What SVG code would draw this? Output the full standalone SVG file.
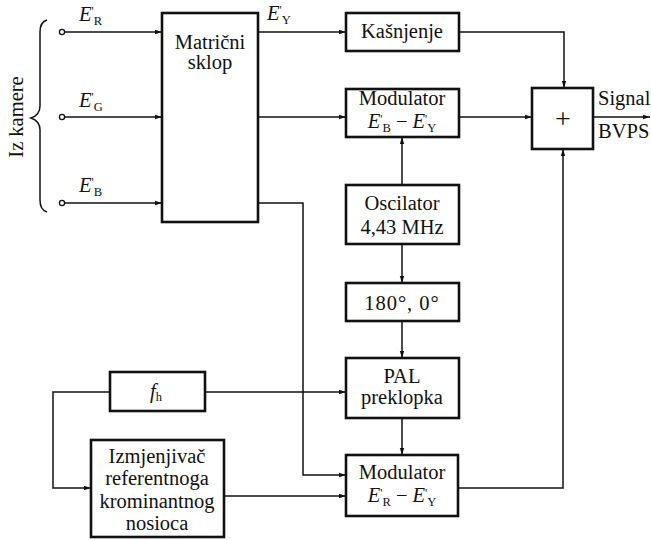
<svg xmlns="http://www.w3.org/2000/svg" width="651" height="540" viewBox="0 0 651 540">
<defs>
<marker id="ar" markerWidth="8" markerHeight="6" refX="7" refY="3" orient="auto" markerUnits="userSpaceOnUse">
<path d="M0,0.8 L7,3 L0,5.2 z" fill="#111"/>
</marker>
<style>
.box{fill:#fff;stroke:#111;stroke-width:2.6}
.ln{fill:none;stroke:#111;stroke-width:1.5}
.ar{marker-end:url(#ar)}
text{font-family:"Liberation Serif","Times New Roman",serif;fill:#111;font-size:20.5px}
.c{text-anchor:middle}
.it{font-style:italic}
.sub{font-size:12.5px}
.pr{font-size:12px}
.plus{font-size:28px}
</style>
</defs>
<rect width="651" height="540" fill="#fff"/>

<g id="connectors">
<path class="ln ar" d="M65,32 H162"/>
<path class="ln ar" d="M65,117 H162"/>
<path class="ln ar" d="M65,203 H162"/>
<path class="ln ar" d="M258,32 H346"/>
<path class="ln ar" d="M258,117 H346"/>
<path class="ln ar" d="M258,203 H303 V475 H346"/>
<path class="ln ar" d="M459,32 H564 V88"/>
<path class="ln ar" d="M459,117 H532"/>
<path class="ln ar" d="M593,117 H650"/>
<path class="ln ar" d="M458,488 H563 V149"/>
<path class="ln ar" d="M402,185 V137"/>
<path class="ln ar" d="M402,244 V283"/>
<path class="ln ar" d="M402,321 V358"/>
<path class="ln ar" d="M402,418 V455"/>
<path class="ln ar" d="M205,392 H346"/>
<path class="ln ar" d="M110,392 H53 V488 H91"/>
<path class="ln ar" d="M224,496 H346"/>
</g>

<g id="inputs">
<circle cx="62" cy="32" r="2.6" fill="#fff" stroke="#111" stroke-width="1.3"/>
<circle cx="62" cy="117" r="2.6" fill="#fff" stroke="#111" stroke-width="1.3"/>
<circle cx="62" cy="203" r="2.6" fill="#fff" stroke="#111" stroke-width="1.3"/>
<text x="79" y="21"><tspan class="it">E</tspan><tspan class="pr" dy="-6">'</tspan><tspan class="sub" dy="10">R</tspan></text>
<text x="79" y="107"><tspan class="it">E</tspan><tspan class="pr" dy="-6">'</tspan><tspan class="sub" dy="10">G</tspan></text>
<text x="79" y="192"><tspan class="it">E</tspan><tspan class="pr" dy="-6">'</tspan><tspan class="sub" dy="10">B</tspan></text>
<text x="267" y="20"><tspan class="it">E</tspan><tspan class="pr" dy="-6">'</tspan><tspan class="sub" dy="10">Y</tspan></text>
</g>

<g id="brace">
<path class="ln" d="M47,20 Q40,22 40,32 V106 Q40,115 31,118 Q40,121 40,130 V200 Q40,210 47,212" stroke-width="1.6"/>
<text class="c" transform="translate(23,117) rotate(-90)">Iz kamere</text>
</g>

<g id="matricni">
<rect class="box" x="162" y="13" width="96" height="209"/>
<text class="c" x="210" y="49">Matrični</text>
<text class="c" x="210" y="69">sklop</text>
</g>

<g id="kasnjenje">
<rect class="box" x="346" y="13" width="113" height="38"/>
<text class="c" x="402" y="38">Kašnjenje</text>
</g>

<g id="modulator1">
<rect class="box" x="346" y="89" width="113" height="48"/>
<text class="c" x="402" y="105">Modulator</text>
<text class="c" x="402" y="128"><tspan class="it">E</tspan><tspan class="pr" dy="-5">'</tspan><tspan class="sub" dy="9">B</tspan><tspan dy="-4"> − </tspan><tspan class="it">E</tspan><tspan class="pr" dy="-5">'</tspan><tspan class="sub" dy="9">Y</tspan></text>
</g>

<g id="oscilator">
<rect class="box" x="346" y="185" width="113" height="59"/>
<text class="c" x="402" y="210">Oscilator</text>
<text class="c" x="402" y="234">4,43 MHz</text>
</g>

<g id="faza">
<rect class="box" x="346" y="283" width="113" height="38"/>
<text class="c" x="402" y="310" letter-spacing="1">180°, 0°</text>
</g>

<g id="pal">
<rect class="box" x="346" y="358" width="113" height="60"/>
<text class="c" x="402" y="383">PAL</text>
<text class="c" x="402" y="404">preklopka</text>
</g>

<g id="modulator2">
<rect class="box" x="346" y="455" width="112" height="61"/>
<text class="c" x="402" y="479">Modulator</text>
<text class="c" x="402" y="502"><tspan class="it">E</tspan><tspan class="pr" dy="-5">'</tspan><tspan class="sub" dy="9">R</tspan><tspan dy="-4"> − </tspan><tspan class="it">E</tspan><tspan class="pr" dy="-5">'</tspan><tspan class="sub" dy="9">Y</tspan></text>
</g>

<g id="zbroj">
<rect class="box" x="532" y="88" width="61" height="61"/>
<text class="c plus" x="563" y="128">+</text>
<text x="598" y="105">Signal</text>
<text x="598" y="138">BVPS</text>
</g>

<g id="fh">
<rect class="box" x="110" y="372" width="95" height="39"/>
<text x="150" y="398"><tspan class="it">f</tspan><tspan class="sub" dy="3">h</tspan></text>
</g>

<g id="izmjenjivac">
<rect class="box" x="91" y="440" width="133" height="97"/>
<text class="c" x="157" y="463">Izmjenjivač</text>
<text class="c" x="157" y="485">referentnoga</text>
<text class="c" x="157" y="508">krominantnog</text>
<text class="c" x="157" y="530">nosioca</text>
</g>
</svg>
